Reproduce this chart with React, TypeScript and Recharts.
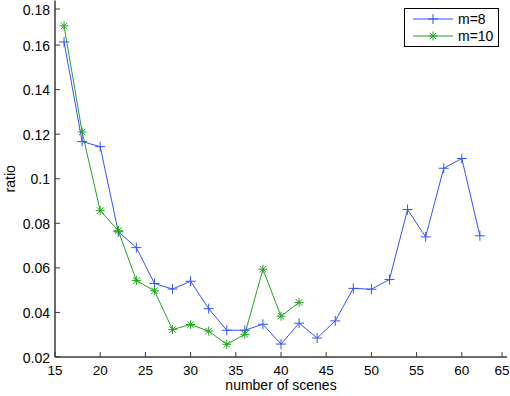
import { LineChart, Line, XAxis, YAxis, Customized } from "recharts";

// number of scenes on the x axis
const scenes = [16, 18, 20, 22, 24, 26, 28, 30, 32, 34, 36, 38, 40, 42, 44, 46, 48, 50, 52, 54, 56, 58, 60, 62];

// ratio for m=8 (blue, plus markers)
const ratioM8 = [
  0.1614, 0.1167, 0.1144, 0.0762, 0.0691, 0.0530, 0.0505, 0.0540, 0.0417, 0.0320, 0.0320, 0.0347,
  0.0258, 0.0352, 0.0285, 0.0362, 0.0508, 0.0504, 0.0548, 0.0862, 0.0739, 0.1047, 0.1091, 0.0744,
];

// ratio for m=10 (green, asterisk markers)
const ratioM10 = [
  0.1686, 0.1210, 0.0857, 0.0767, 0.0543, 0.0497, 0.0323, 0.0346, 0.0316, 0.0257, 0.0302, 0.0594,
  0.0383, 0.0445,
];

const xTicks = [15, 20, 25, 30, 35, 40, 45, 50, 55, 60, 65];
const yTicks = [0.02, 0.04, 0.06, 0.08, 0.1, 0.12, 0.14, 0.16, 0.18];
const yTickLabels = ["0.02", "0.04", "0.06", "0.08", "0.1", "0.12", "0.14", "0.16", "0.18"];

const BLUE = "#3353ff";
const GREEN = "#22a322";
const AXIS = "#3a3a3a";
const FONT = "'Liberation Sans', Arial, Helvetica, sans-serif";

const data = scenes.map((s, i) => ({
  scenes: s,
  m8: ratioM8[i],
  m10: i < ratioM10.length ? ratioM10[i] : null,
}));

const plusPath = (x: number, y: number, r: number) => `M${x - r},${y}H${x + r}M${x},${y - r}V${y + r}`;
const starPath = (x: number, y: number, r: number) => {
  const d = r * 0.72;
  return `${plusPath(x, y, r)}M${x - d},${y - d}L${x + d},${y + d}M${x - d},${y + d}L${x + d},${y - d}`;
};

const PlusDot = (props: any) => {
  const { cx, cy, index } = props;
  if (cx == null || cy == null) return <g key={`p${index}`} />;
  return <path key={`p${index}`} d={plusPath(cx, cy, 5)} stroke={BLUE} strokeWidth={1} fill="none" />;
};

const StarDot = (props: any) => {
  const { cx, cy, index } = props;
  if (cx == null || cy == null) return <g key={`s${index}`} />;
  return <path key={`s${index}`} d={starPath(cx, cy, 4.5)} stroke={GREEN} strokeWidth={1} fill="none" />;
};

const BottomTick = ({ x, y, payload }: any) => (
  <g>
    <line x1={x} x2={x} y1={y} y2={y - 5} stroke={AXIS} />
    <text x={x} y={y + 17.5} textAnchor="middle" fontSize={13.5} fontFamily={FONT} fill="#000">
      {payload.value}
    </text>
  </g>
);

const TopTick = ({ x, y }: any) => <line x1={x} x2={x} y1={y} y2={y + 5} stroke={AXIS} />;

const LeftTick = ({ x, y, payload, index }: any) => (
  <g>
    <line x1={x} x2={x + 5} y1={y} y2={y} stroke={AXIS} />
    <text x={x - 5} y={y + 5.5} textAnchor="end" fontSize={14} fontFamily={FONT} fill="#000">
      {yTickLabels[index] ?? payload.value}
    </text>
  </g>
);

const RightTick = ({ x, y }: any) => <line x1={x} x2={x - 5} y1={y} y2={y} stroke={AXIS} />;

const LegendBox = () => (
  <g fontFamily={FONT} fontSize={14}>
    <rect x={404.5} y={8.5} width={94} height={38} fill="#fff" stroke="#000" />
    <line x1={413} x2={453} y1={19} y2={19} stroke={BLUE} />
    <path d={plusPath(433, 19, 5)} stroke={BLUE} fill="none" />
    <text x={458} y={24} fill="#000">m=8</text>
    <line x1={413} x2={453} y1={36} y2={36} stroke={GREEN} />
    <path d={starPath(433, 36, 4.5)} stroke={GREEN} fill="none" />
    <text x={458} y={41} fill="#000">m=10</text>
  </g>
);

export default function App() {
  return (
    <div style={{ position: "absolute", left: 0, top: 0, background: "#fff" }}>
      <LineChart width={510} height={396} data={data} margin={{ top: 0.5, right: 3, bottom: 0, left: 0 }}>
        <XAxis
          xAxisId="bottom"
          dataKey="scenes"
          type="number"
          domain={[15, 65]}
          ticks={xTicks}
          allowDataOverflow
          height={39}
          tickSize={0}
          tickMargin={0}
          tick={<BottomTick />}
          axisLine={{ stroke: AXIS, strokeWidth: 1.5 }}
          label={{
            content: () => (
              <text x={281} y={390} textAnchor="middle" fontSize={14} fontFamily={FONT} fill="#000">
                number of scenes
              </text>
            ),
          }}
        />
        <XAxis
          xAxisId="top"
          dataKey="scenes"
          type="number"
          orientation="top"
          domain={[15, 65]}
          ticks={xTicks}
          allowDataOverflow
          height={0}
          tickSize={0}
          tickMargin={0}
          tick={<TopTick />}
          axisLine={{ stroke: AXIS, strokeWidth: 1.5 }}
        />
        <YAxis
          yAxisId="left"
          type="number"
          domain={[0.02, 0.18]}
          ticks={yTicks}
          allowDataOverflow
          width={55}
          tickSize={0}
          tickMargin={0}
          tick={<LeftTick />}
          axisLine={{ stroke: AXIS, strokeWidth: 1.5 }}
          label={{
            content: (p: any) => {
              const cy = p.viewBox ? p.viewBox.y + p.viewBox.height / 2 : 179;
              return (
                <text
                  x={15}
                  y={cy}
                  textAnchor="middle"
                  fontSize={14}
                  fontFamily={FONT}
                  fill="#000"
                  transform={`rotate(-90 15 ${cy})`}
                >
                  ratio
                </text>
              );
            },
          }}
        />
        <YAxis
          yAxisId="right"
          type="number"
          orientation="right"
          domain={[0.02, 0.18]}
          ticks={yTicks}
          allowDataOverflow
          width={0}
          tickSize={0}
          tickMargin={0}
          tick={<RightTick />}
          axisLine={{ stroke: AXIS, strokeWidth: 1.5 }}
        />
        <Line
          xAxisId="bottom"
          yAxisId="left"
          type="linear"
          dataKey="m8"
          stroke={BLUE}
          strokeWidth={1}
          dot={PlusDot}
          activeDot={false}
          isAnimationActive={false}
        />
        <Line
          xAxisId="bottom"
          yAxisId="left"
          type="linear"
          dataKey="m10"
          stroke={GREEN}
          strokeWidth={1}
          dot={StarDot}
          activeDot={false}
          connectNulls={false}
          isAnimationActive={false}
        />
        <Customized component={LegendBox} />
      </LineChart>
    </div>
  );
}
